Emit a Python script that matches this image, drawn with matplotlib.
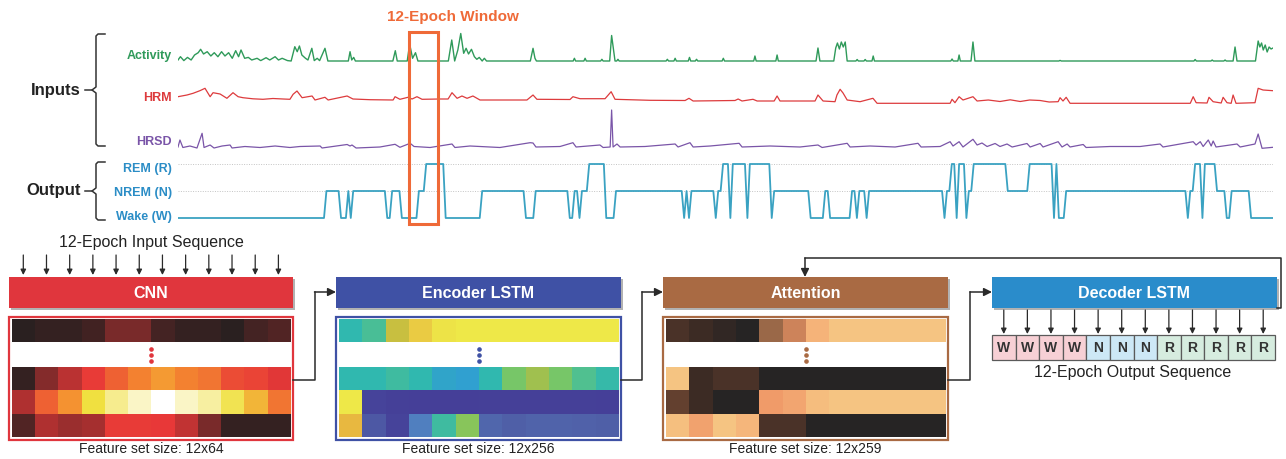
import numpy as np
import matplotlib
matplotlib.use("Agg")
import matplotlib.pyplot as plt
from matplotlib.patches import Rectangle
from matplotlib.colors import LinearSegmentedColormap
import matplotlib.patheffects as pe

plt.rcParams["font.family"] = ["Liberation Sans", "DejaVu Sans"]

# ---------------- data ----------------
N_EPOCHS = 450
WIN_START, WIN_LEN = 95, 12

# hypnogram as run starts (epoch, stage)
stage_starts = [0, 61, 67, 70, 71, 72, 86, 88, 92, 99, 102, 110, 125, 143, 147, 161, 163, 165,
                166, 169, 176, 180, 208, 209, 210, 211, 221, 222, 224, 227, 228, 234, 235, 244,
                245, 260, 266, 268, 277, 279, 280, 283, 284, 315, 316, 318, 320, 321, 324, 325,
                327, 341, 350, 360, 361, 362, 365, 415, 416, 418, 421, 422, 427, 431, 433, 441]
stage_codes = ["W", "N", "W", "N", "W", "N", "W", "N", "W", "N", "R", "W", "N", "W", "N", "W", "N", "W",
               "N", "R", "W", "N", "W", "N", "W", "N", "W", "N", "R", "W", "R", "W", "R", "W",
               "N", "W", "N", "W", "N", "W", "N", "W", "N", "W", "N", "R", "W", "R", "W", "N",
               "R", "N", "R", "W", "R", "W", "N", "W", "N", "R", "W", "R", "N", "W", "N", "W"]

activity_pts = [(0, 1.0), (1.0, 4.3), (2.4, 0.4), (3.9, 3.6), (5.4, 1.0), (6.8, 6.0), (8.3, 8.3),
                (9.3, 11.7), (10.5, 7.0), (12.0, 9.3), (13.5, 5.0), (14.9, 8.3), (16.4, 4.3),
                (17.9, 9.3), (19.3, 5.0), (20.8, 8.3), (22.3, 2.7), (23.7, 10.3), (24.9, 4.3),
                (25.9, 11.0), (27.4, 2.7), (28.9, 3.6), (30.3, 1.0), (32.5, 2.7), (34.0, 0.4),
                (36.2, 3.3), (37.7, 1.0), (39.9, 4.3), (41.3, 1.0), (42.8, 2.7), (45.0, 0.4),
                (46.5, 0), (48.0, 14.3), (49.0, 9.3), (49.9, 15.0), (50.9, 6.0), (52.4, 2.7),
                (53.4, 1.0), (55.0, 12.7), (56.0, 0.4), (57.2, 2.7), (58.2, 0.4), (60.4, 12.7),
                (61.6, 0), (70.0, 0), (70.7, 9.3), (71.4, 1.0), (72.2, 3.6), (72.9, 0),
                (88.3, 0), (89.3, 10.3), (90.1, 0), (94.2, 0), (95.2, 17.0), (96.4, 2.7),
                (97.6, 8.3), (98.6, 0), (111.1, 0), (112.5, 21.0), (113.7, 0), (115.0, 11.0),
                (116.2, 27.5), (117.4, 7.7), (118.4, 12.7), (119.4, 7.0), (120.6, 11.7),
                (121.8, 4.3), (122.8, 1.7), (123.8, 3.6), (125.0, 0), (125.9, 2.7), (126.8, 0),
                (144.8, 0), (145.9, 12.7), (146.7, 2.7), (147.3, 0), (162.4, 0), (162.9, 2.7),
                (163.4, 0), (166.8, 0), (167.3, 2.7), (167.8, 0), (173.7, 0), (174.2, 1.7),
                (174.7, 0), (177.4, 0), (178.2, 25.5), (179.6, 0), (180.3, 0), (180.8, 1.7),
                (181.3, 0), (200.6, 0), (201.1, 1.7), (201.6, 0), (203.8, 0), (204.3, 2.7),
                (204.8, 0), (209.7, 0), (210.2, 3.6), (210.7, 0), (212.6, 0), (213.1, 1.7),
                (213.6, 0), (223.6, 0), (224.1, 2.7), (224.6, 0), (236.6, 0), (237.1, 5.0),
                (237.6, 0), (245.7, 0), (246.2, 6.0), (246.7, 0), (262.2, 0), (263.0, 13.0),
                (263.8, 0), (269.5, 0), (270.3, 13.0), (271.0, 18.0), (271.8, 12.0),
                (272.6, 19.0), (273.4, 14.0), (274.2, 19.0), (275.0, 0), (278.6, 0),
                (279.1, 1.5), (279.6, 0), (281.9, 0), (282.4, 1.5), (282.9, 0), (285.2, 0),
                (285.7, 5.0), (286.2, 0), (317.6, 0), (318.1, 2.0), (318.6, 0), (320.5, 0),
                (321.0, 6.0), (321.5, 0), (325.9, 0), (326.7, 19.0), (327.5, 0), (362.0, 0),
                (362.5, 0.6), (363.0, 0), (417.5, 0), (418.0, 1.5), (418.5, 0), (424.5, 0),
                (425.0, 1.0), (425.5, 0), (429.8, 0), (430.3, 1.0), (430.8, 0), (433.6, 0),
                (434.4, 14.0), (435.2, 0), (442.8, 0), (443.9, 20.0), (444.6, 14.0),
                (445.3, 18.0), (446.0, 11.0), (446.8, 16.0), (447.6, 9.0), (448.4, 14.0),
                (449.2, 12.0), (450, 13.0)]

hrm_pts = [(0, 7.3), (3.7, 9.0), (6.2, 10.7), (9.0, 13.3), (11.1, 15.7), (13.2, 7.3), (14.4, 11.3),
           (17.3, 10.0), (20.1, 5.7), (22.6, 11.3), (24.7, 7.3), (26.7, 6.3), (30.8, 5.2),
           (34.9, 4.7), (39.0, 5.5), (43.2, 5.0), (46.0, 4.7), (47.3, 9.7), (48.9, 13.0),
           (51.0, 6.3), (55.1, 8.0), (56.3, 4.0), (60.4, 6.7), (61.7, 4.0), (69.5, 8.0),
           (71.9, 5.0), (78.9, 4.3), (88.4, 4.0), (89.2, 7.3), (91.2, 4.7), (94.5, 6.7),
           (96.2, 5.0), (98.2, 7.3), (100.3, 4.7), (107.7, 5.0), (111.0, 5.0), (112.6, 11.3),
           (114.7, 5.7), (116.7, 8.0), (118.8, 5.7), (121.2, 8.0), (124.1, 4.0), (143.4, 4.0),
           (145.9, 9.0), (147.5, 4.7), (161.1, 4.5), (162.3, 7.3), (165.2, 5.3), (175.5, 5.3),
           (178.0, 12.3), (179.6, 4.7), (194.0, 3.7), (208.4, 3.5), (210.0, 5.7), (211.7, 3.0),
           (228.9, 3.5), (230.2, 5.0), (231.8, 3.0), (236.3, 4.7), (238.0, 3.0), (245.0, 3.0),
           (246.2, 8.0), (247.4, 3.0), (261.8, 3.0), (263.0, 9.0), (265.1, 3.0), (270.0, 2.3),
           (270.8, 9.0), (272.1, 14.7), (273.3, 11.0), (275.0, 4.0), (280.3, 2.3), (285.6, 5.7),
           (287.3, 0.7), (317.3, 0.7), (318.1, 4.7), (319.3, 1.3), (321.0, 7.3), (322.6, 4.0),
           (326.7, 7.3), (328.4, 3.0), (333.0, 4.0), (337.8, 2.5), (342.0, 4.2), (346.1, 2.5),
           (350.0, 4.0), (354.3, 3.5), (358.0, 2.0), (361.7, 2.3), (362.5, 6.3), (363.7, 3.0),
           (365.0, 6.7), (366.6, 0.7), (416.0, 0.7), (417.2, 7.3), (418.4, 1.3), (422.9, 1.0),
           (423.7, 6.7), (425.4, 2.3), (428.7, 1.0), (429.5, 6.7), (431.1, 1.3), (432.8, 0.7),
           (433.6, 9.0), (434.8, 0.7), (442.6, 1.3), (443.9, 15.7), (445.9, 14.0), (450, 13.3)]

hrsd_pts = [(0, 3.0), (0.8, 10.0), (2.0, 2.5), (4.9, 4.0), (7.8, 2.0), (9.9, 16.7), (10.7, 2.5),
            (13.2, 5.0), (14.8, 2.0), (18.1, 4.0), (21.4, 5.0), (22.2, 2.0), (27.5, 3.5),
            (33.7, 2.5), (39.9, 4.0), (46.0, 2.5), (50.1, 3.5), (58.4, 4.0), (59.2, 2.0),
            (69.5, 5.5), (70.7, 4.0), (71.5, 5.0), (73.2, 2.0), (83.0, 3.0), (89.2, 5.7),
            (91.2, 2.7), (95.4, 6.7), (97.0, 3.5), (103.6, 2.5), (112.6, 6.0), (113.8, 2.5),
            (120.0, 4.0), (132.3, 2.5), (144.7, 7.3), (145.9, 7.0), (147.1, 3.0), (157.0, 3.5),
            (162.3, 7.3), (163.6, 3.0), (173.4, 5.0), (174.7, 2.5), (177.6, 3.0), (178.2, 40.0),
            (178.8, 3.0), (180.4, 6.0), (181.7, 3.0), (191.9, 3.5), (204.3, 6.0), (205.5, 3.0),
            (210.4, 7.3), (211.7, 3.0), (218.7, 4.0), (230.6, 6.7), (231.8, 3.0), (243.3, 4.0),
            (255.6, 3.0), (263.0, 5.0), (264.7, 2.5), (275.0, 6.7), (276.2, 3.0), (284.4, 4.0),
            (294.7, 3.0), (304.1, 6.7), (305.4, 3.0), (313.2, 3.5), (317.3, 8.3), (318.5, 4.0),
            (321.0, 8.3), (322.6, 3.0), (326.7, 10.7), (328.4, 5.0), (330.4, 7.0), (332.5, 3.5),
            (335.8, 6.5), (337.8, 3.5), (340.7, 6.0), (342.8, 3.0), (348.9, 6.5), (350.2, 3.0),
            (354.3, 6.5), (355.5, 3.0), (361.7, 8.3), (363.3, 3.0), (365.4, 6.0), (366.6, 3.0),
            (372.0, 5.5), (373.2, 2.5), (383.0, 3.5), (395.4, 3.5), (403.6, 6.0), (404.8, 3.0),
            (417.2, 8.3), (418.4, 5.0), (420.1, 8.3), (421.3, 3.5), (423.4, 10.0), (424.6, 4.0),
            (425.4, 9.0), (426.6, 3.0), (435.2, 6.0), (436.5, 3.0), (442.6, 6.0), (443.9, 16.0),
            (445.5, 1.7), (450, 2.7)]

cnn_top = [0.0, 0.03, 0.03, 0.06, 0.2, 0.2, 0.07, 0.03, 0.03, 0.0, 0.07, 0.1]
cnn_rows = [[0.03, 0.22, 0.32, 0.41, 0.5, 0.58, 0.64, 0.58, 0.55, 0.45, 0.43, 0.39],
            [0.3, 0.5, 0.62, 0.8, 0.88, 0.94, 1.0, 0.94, 0.9, 0.82, 0.7, 0.55],
            [0.1, 0.3, 0.26, 0.28, 0.41, 0.41, 0.4, 0.33, 0.2, 0.03, 0.03, 0.03]]
enc_top = [0.5, 0.58, 0.85, 0.95, 0.99, 1, 1, 1, 1, 1, 1, 1]
enc_rows = [[0.5, 0.5, 0.55, 0.5, 0.42, 0.4, 0.5, 0.68, 0.78, 0.68, 0.6, 0.52],
            [1.0, 0.02, 0.01, 0.0, 0.0, 0.0, 0.01, 0.01, 0.01, 0.01, 0.01, 0.0],
            [0.92, 0.12, 0.02, 0.3, 0.55, 0.72, 0.18, 0.15, 0.17, 0.17, 0.16, 0.15]]
att_top = [0.2, 0.12, 0.06, 0.0, 0.45, 0.62, 0.9, 1, 1, 1, 1, 1]
att_rows = [[1.0, 0.12, 0.2, 0.2, 0, 0, 0, 0, 0, 0, 0, 0],
            [0.28, 0.12, 0, 0, 0.76, 0.82, 0.96, 1, 1, 1, 1, 1],
            [0.97, 0.8, 1.0, 0.92, 0.2, 0.2, 0, 0, 0, 0, 0, 0]]

# ---------------- style ----------------
C_ACT, C_HRM, C_HRSD, C_HYP = "#2f9a5a", "#dd3b3d", "#7a55a8", "#3aa2c2"
C_LAB = "#2b8dc6"
C_WIN = "#ef6a38"
C_CNN, C_ENC, C_ATT, C_DEC = "#e0363d", "#3f51a5", "#a96a43", "#2a8ccb"
DARK = "#2a2a2a"
stage_level = {"R": 164, "N": 191, "W": 218}
cell_fill = {"W": "#f7d0d5", "N": "#cde8f6", "R": "#d6ecdf"}

cmap_cnn = LinearSegmentedColormap.from_list(
    "cnn", [(0, "#2a2020"), (0.2, "#7a2a2a"), (0.4, "#e83838"), (0.6, "#f58a30"),
            (0.8, "#f0e040"), (1.0, "#ffffff")])
cmap_enc = LinearSegmentedColormap.from_list(
    "enc", [(0, "#453f98"), (0.15, "#5060a8"), (0.3, "#5080c0"), (0.4, "#30a0d0"),
            (0.5, "#30b8b0"), (0.6, "#50c090"), (0.7, "#80c860"), (0.78, "#a0c050"),
            (0.85, "#c8c040"), (0.92, "#e8b840"), (1.0, "#eee848")])
cmap_att = LinearSegmentedColormap.from_list(
    "att", [(0, "#262424"), (0.1, "#3a2a24"), (0.2, "#4a3228"), (0.3, "#6a4432"),
            (0.45, "#9a6848"), (0.6, "#c88058"), (0.75, "#f09a68"), (0.88, "#f5b078"),
            (1.0, "#f5c482")])

W, H = 1286, 459
fig = plt.figure(figsize=(W / 100, H / 100), dpi=100)
ax = fig.add_axes([0, 0, 1, 1])
ax.set_xlim(0, W)
ax.set_ylim(H, 0)
ax.axis("off")

# ---------------- top: signals ----------------
sx0, sx1, sy0, sy1 = 178, 1273, 28, 226
axs = fig.add_axes([sx0 / W, (H - sy1) / H, (sx1 - sx0) / W, (sy1 - sy0) / H])
axs.set_xlim(0, N_EPOCHS)
axs.set_ylim(sy1, sy0)
axs.axis("off")
axs.patch.set_alpha(0)

for lvl in (stage_level["R"], stage_level["N"]):
    axs.plot([0, N_EPOCHS], [lvl, lvl], ls=(0, (1, 1.5)), color="#c4c4c4", lw=0.7)

t, v = zip(*activity_pts)
axs.plot(t, 61 - np.array(v), color=C_ACT, lw=1.0)
t, v = zip(*hrm_pts)
axs.plot(t, 104 - np.array(v), color=C_HRM, lw=0.9)
t, v = zip(*hrsd_pts)
axs.plot(t, 150 - np.array(v), color=C_HRSD, lw=0.9)

# expand run-length hypnogram to one value per epoch
run_ends = stage_starts[1:] + [N_EPOCHS + 1]
run_lens = [e - s for s, e in zip(stage_starts, run_ends)]
stages = np.repeat(stage_codes, run_lens)
axs.plot(np.arange(len(stages)), [stage_level[s] for s in stages], color=C_HYP, lw=1.3)

axs.add_patch(Rectangle((WIN_START - 0.1, 32), WIN_LEN, 192, fill=False, ec=C_WIN,
                        lw=2.2, clip_on=False, zorder=5))
ax.text(453, 17, "12-Epoch Window", color=C_WIN, fontsize=11, fontweight="bold",
        ha="center", va="center")

for label, y, c in [("Activity", 56, C_ACT), ("HRM", 98, C_HRM), ("HRSD", 142, C_HRSD),
                    ("REM (R)", 169, C_LAB), ("NREM (N)", 193, C_LAB), ("Wake (W)", 217, C_LAB)]:
    ax.text(172, y, label, color=c, fontsize=9, fontweight="bold", ha="right", va="center")


def brace(y0, ym, y1):
    ax.plot([105, 98, 96, 96, 92, 96, 96, 98, 105],
            [y0, y0, y0 + 2, ym - 3, ym, ym + 3, y1 - 2, y1, y1], color="#333", lw=1.1)
    ax.plot([85, 92], [ym, ym], color="#333", lw=1.1)


brace(34, 90, 146)
brace(162, 191, 220)
ax.text(81, 90, "Inputs", fontsize=12, fontweight="bold", ha="right", va="center", color="#222")
ax.text(81, 191, "Output", fontsize=12, fontweight="bold", ha="right", va="center", color="#222")

# ---------------- bottom: model blocks ----------------
BOX_Y0, BOX_Y1 = 277, 308
shadow = [pe.SimplePatchShadow(offset=(1.5, -1.5), shadow_rgbFace="k", alpha=0.3), pe.Normal()]


def block(x0, x1, color, label):
    ax.add_patch(Rectangle((x0, BOX_Y0), x1 - x0, BOX_Y1 - BOX_Y0, fc=color, ec="none",
                           path_effects=shadow))
    ax.text((x0 + x1) / 2, (BOX_Y0 + BOX_Y1) / 2 + 0.5, label, color="white", fontsize=11.5,
            fontweight="bold", ha="center", va="center")


def heatmap(x0, x1, top, rows, cmap, color, caption):
    ax.add_patch(Rectangle((x0, 317), x1 - x0, 123, fc="white", ec=color, lw=1.6, zorder=1))
    ix0, ix1 = x0 + 2.5, x1 - 2.5
    ax.imshow([top], cmap=cmap, vmin=0, vmax=1, extent=(ix0, ix1, 342, 319.5),
              aspect="auto", interpolation="nearest", zorder=2)
    ax.imshow(rows, cmap=cmap, vmin=0, vmax=1, extent=(ix0, ix1, 437.5, 367.5),
              aspect="auto", interpolation="nearest", zorder=2)
    xc = (x0 + x1) / 2
    ax.plot([xc] * 3, [349, 355, 361], "o", ms=2.3, color=color, zorder=3)
    ax.text(xc, 449, caption, fontsize=10, ha="center", va="center", color="#222")


blocks = [(9, 293, C_CNN, "CNN", cnn_top, cnn_rows, cmap_cnn, "Feature set size: 12x64"),
          (336, 621, C_ENC, "Encoder LSTM", enc_top, enc_rows, cmap_enc, "Feature set size: 12x256"),
          (663, 948, C_ATT, "Attention", att_top, att_rows, cmap_att, "Feature set size: 12x259")]
for x0, x1, c, lab, top, rows, cm, cap in blocks:
    block(x0, x1, c, lab)
    heatmap(x0, x1, top, rows, cm, c, cap)
block(992, 1277, C_DEC, "Decoder LSTM")

arrow = dict(arrowstyle="-|>", color=DARK, lw=1.1, mutation_scale=12, shrinkA=0, shrinkB=0)
small_arrow = dict(arrowstyle="-|>", color=DARK, lw=0.9, mutation_scale=8, shrinkA=0, shrinkB=0)

# input sequence arrows
ax.text(151, 242, "12-Epoch Input Sequence", fontsize=11.5, ha="center", va="center", color="#222")
cw_in = (290 - 11.7) / WIN_LEN
for i in range(WIN_LEN):
    x = 11.7 + cw_in * (i + 0.5)
    ax.annotate("", xy=(x, 275), xytext=(x, 255), arrowprops=small_arrow)

# connectors between blocks
for xr, xn in [(293, 336), (621, 663), (948, 992)]:
    xm = xr + (xn - xr) / 2
    ax.plot([xr, xm, xm], [380, 380, 292], color=DARK, lw=1.1)
    ax.annotate("", xy=(xn, 292), xytext=(xm, 292), arrowprops=arrow)
ax.plot([1277, 1281, 1281, 805], [308, 308, 258, 258], color=DARK, lw=1.1)
ax.annotate("", xy=(805, 277), xytext=(805, 258), arrowprops=arrow)

# decoded output sequence (taken from the hypnogram inside the window)
out_seq = stages[WIN_START:WIN_START + WIN_LEN]
cx0, cw = 992, (1275 - 992) / WIN_LEN
for i, s in enumerate(out_seq):
    x = cx0 + cw * i
    ax.add_patch(Rectangle((x, 335), cw, 25, fc=cell_fill[s], ec="#5a5a5a", lw=0.9))
    ax.text(x + cw / 2, 348, s, fontsize=10, fontweight="bold", ha="center", va="center",
            color="#333")
    ax.annotate("", xy=(x + cw / 2, 334), xytext=(x + cw / 2, 310), arrowprops=small_arrow)
ax.text(1133, 372, "12-Epoch Output Sequence", fontsize=11.5, ha="center", va="center",
        color="#222")

ax.set_xlim(0, W)
ax.set_ylim(H, 0)
fig.savefig("out.png", dpi=100)
